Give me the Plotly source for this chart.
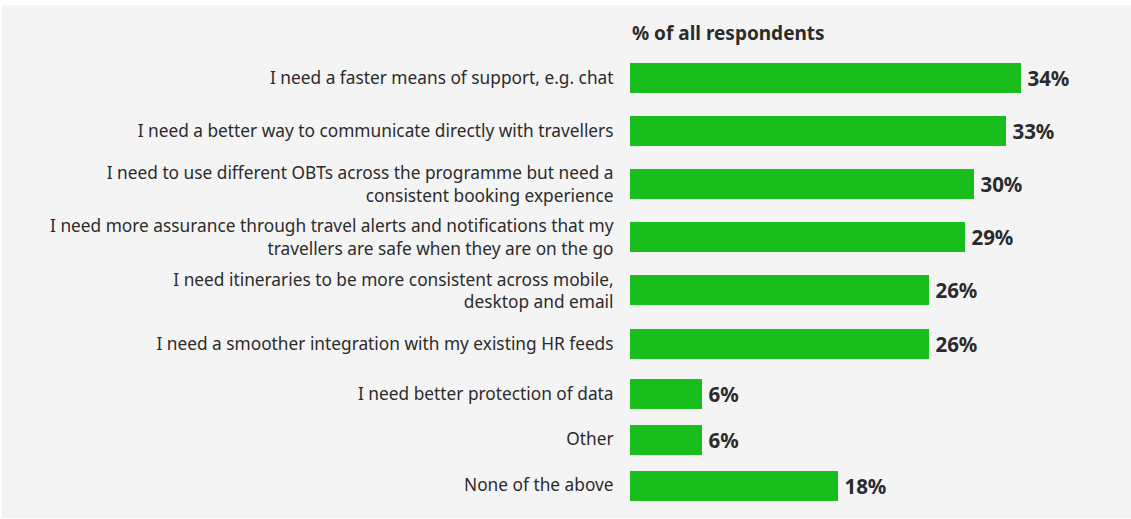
import plotly.graph_objects as go

# ---- data ----
categories_top = [
    "I need a faster means of support, e.g. chat",
    "I need a better way to communicate directly with travellers",
    "I need to use different OBTs across the programme but need a<br>consistent booking experience",
    "I need more assurance through travel alerts and notifications that my<br>travellers are safe when they are on the go",
    "I need itineraries to be more consistent across mobile,<br>desktop and email",
    "I need a smoother integration with my existing HR feeds",
]
values_top = [34.1, 32.8, 30.0, 29.2, 26.1, 26.1]

categories_bottom = [
    "I need better protection of data",
    "Other",
    "None of the above",
]
values_bottom = [6.3, 6.3, 18.1]

header = "% of all respondents"

# ---- style ----
W, H = 1131, 519
GREEN = "#19be1c"
TEXT = "#2b2b2b"
BG = "#f4f4f4"
FONT = "Noto Sans"

ML, MR = 630, 10
XMAX = 42.8


def fy(px):
    return 1 - px / H


def fx(px):
    return (px - ML) / (W - ML - MR)


fig = go.Figure()

valfont = dict(family=FONT, size=20.5, color=TEXT, weight="bold")

fig.add_trace(go.Bar(
    x=values_top, y=categories_top, orientation="h",
    marker=dict(color=GREEN, line=dict(width=0)),
    width=0.565,
    texttemplate="\u2009%{x:.0f}%", textposition="outside",
    textfont=valfont,
    cliponaxis=False, hoverinfo="skip",
    xaxis="x", yaxis="y",
))
fig.add_trace(go.Bar(
    x=values_bottom, y=categories_bottom, orientation="h",
    marker=dict(color=GREEN, line=dict(width=0)),
    width=0.655,
    texttemplate="\u2009%{x:.0f}%", textposition="outside",
    textfont=valfont,
    cliponaxis=False, hoverinfo="skip",
    xaxis="x2", yaxis="y2",
))

xcommon = dict(range=[0, XMAX], showgrid=False, zeroline=False,
               showticklabels=False, showline=False, fixedrange=True)
ycommon = dict(showgrid=False, zeroline=False, showline=False,
               ticks="outside", ticklen=0, ticklabelstandoff=12,
               tickfont=dict(family=FONT, size=17.3, color=TEXT),
               autorange="reversed", type="category", fixedrange=True)

fig.update_layout(
    width=W, height=H,
    margin=dict(l=ML, r=MR, t=0, b=0),
    paper_bgcolor="white",
    plot_bgcolor="rgba(0,0,0,0)",
    showlegend=False,
    bargap=0,
    xaxis=dict(domain=[0, 1], anchor="y", **xcommon),
    xaxis2=dict(domain=[0, 1], anchor="y2", **xcommon),
    yaxis=dict(domain=[fy(370.6), fy(51.4)], anchor="x",
               categoryorder="array", categoryarray=categories_top, **ycommon),
    yaxis2=dict(domain=[fy(508), fy(370.6)], anchor="x2",
                categoryorder="array", categoryarray=categories_bottom, **ycommon),
    shapes=[dict(type="rect", xref="paper", yref="paper",
                 x0=fx(2), x1=fx(W), y0=fy(518), y1=fy(5),
                 fillcolor=BG, line=dict(width=0), layer="below")],
    annotations=[dict(text=header, xref="x", x=0, xanchor="left",
                      yref="paper", y=fy(33), yanchor="middle",
                      showarrow=False,
                      font=dict(family=FONT, size=19, color=TEXT, weight="bold"))],
)

fig.write_html("out.html", config={"displayModeBar": False},
               post_script="document.body.style.margin='0px';")
